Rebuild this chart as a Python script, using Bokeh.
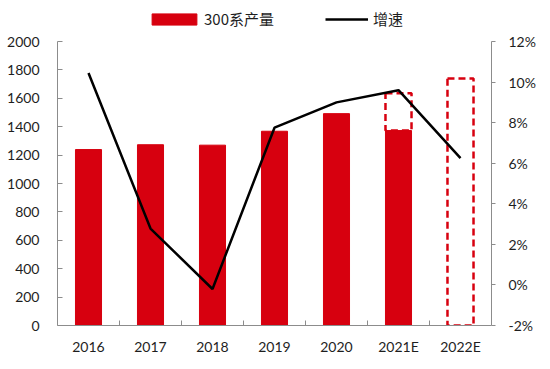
import math
from bokeh.plotting import figure
from bokeh.models import (FactorRange, Range1d, LinearAxis, Legend, LegendItem,
                          PrintfTickFormatter, FixedTicker, ColumnDataSource)
from bokeh.transform import dodge
from bokeh.core.properties import value
from bokeh.embed import file_html
from bokeh.resources import INLINE

# ---- data ----
years = ["2016", "2017", "2018", "2019", "2020", "2021E", "2022E"]
actual_years = ["2016", "2017", "2018", "2019", "2020", "2021E"]
output = [1239, 1273, 1270, 1368, 1492, 1373]          # 300系产量 (solid bars)
forecast_years = ["2021E", "2022E"]
forecast_base = [1373, 0]
forecast_total = [1636, 1740]                           # dashed forecast boxes
growth = [10.45, 2.78, -0.2, 7.75, 9.0, 9.6, 6.25]      # 增速 (%)
left_ticks = [0, 200, 400, 600, 800, 1000, 1200, 1400, 1600, 1800, 2000]
right_ticks = [-2, 0, 2, 4, 6, 8, 10, 12]

RED = "#D7000F"
FONT = "Lato"
CJK = "Noto Sans CJK SC"
TXT = "#1e1e1e"
AX = "#8c8c8c"

# layout: axes occupy 284px; frame extended upward to host the legend
AXIS_H = 284
FRAME_H = 325
L0, L1 = left_ticks[0], left_ticks[-1]
R0, R1 = right_ticks[0], right_ticks[-1]
left_top = L0 + (L1 - L0) * FRAME_H / AXIS_H
right_top = R0 + (R1 - R0) * FRAME_H / AXIS_H

p = figure(x_range=FactorRange(*years), y_range=Range1d(L0, left_top),
           frame_width=434, frame_height=FRAME_H,
           min_border_left=57, min_border_right=43, min_border_top=0, min_border_bottom=28,
           output_backend="svg", toolbar_location=None)
p.extra_y_ranges = {"pct": Range1d(R0, right_top)}
p.outline_line_color = None
p.xgrid.visible = False
p.ygrid.visible = False
p.background_fill_color = "white"
p.border_fill_color = "white"

bars = p.vbar(x=actual_years, top=output, width=0.42, fill_color=RED, line_color=RED)
p.vbar(x=forecast_years, bottom=forecast_base, top=forecast_total, width=0.42,
       fill_alpha=0, line_color=RED, line_width=2.5, line_dash="7 4")
line = p.line(x=years, y=growth, y_range_name="pct", line_color="black", line_width=2.5)

# category boundary ticks on the x axis (pointing inward)
bsrc = ColumnDataSource(dict(x=years[:-1], y=[0] * (len(years) - 1)))
p.scatter(x=dodge("x", 0.5, range=p.x_range), y="y", source=bsrc, marker="dash",
          angle=math.pi / 2, size=10, line_color=AX, line_width=1)

# left axis
la = p.yaxis[0]
la.ticker = FixedTicker(ticks=left_ticks)
la.bounds = (L0, L1)
la.axis_line_color = AX
la.major_tick_line_color = AX
la.major_tick_in = 5
la.major_tick_out = 0
la.minor_tick_line_color = None
la.major_label_standoff = 18
la.major_label_text_font = FONT
la.major_label_text_font_size = "14px"
la.major_label_text_color = TXT

# right axis
ra = LinearAxis(y_range_name="pct", ticker=FixedTicker(ticks=right_ticks),
                formatter=PrintfTickFormatter(format="%d%%"), bounds=(R0, R1))
ra.axis_line_color = AX
ra.major_tick_line_color = AX
ra.major_tick_in = 0
ra.major_tick_out = 4
ra.minor_tick_line_color = None
ra.major_label_standoff = 13
ra.major_label_text_font = FONT
ra.major_label_text_font_size = "14px"
ra.major_label_text_color = TXT
p.add_layout(ra, "right")

# x axis
xa = p.xaxis[0]
xa.axis_line_color = AX
xa.major_tick_line_color = None
xa.major_tick_in = 0
xa.major_tick_out = 0
xa.major_label_standoff = 12
xa.major_label_text_font = FONT
xa.major_label_text_font_size = "14px"
xa.major_label_text_color = TXT

common = dict(orientation="horizontal", glyph_height=14, label_height=14,
              padding=0, margin=0, border_line_color=None, background_fill_alpha=0,
              label_text_font=CJK, label_text_font_size="15px", label_text_color=TXT)
leg_bar = Legend(items=[LegendItem(label="300系产量", renderers=[bars])],
                 location=(89, 296), glyph_width=56, label_standoff=2, **common)
leg_line = Legend(items=[LegendItem(label="增速", renderers=[line])],
                  location=(268, 296), glyph_width=43, label_standoff=5, **common)
p.add_layout(leg_bar)
p.add_layout(leg_line)

open("out.html", "w").write(file_html(p, INLINE))
